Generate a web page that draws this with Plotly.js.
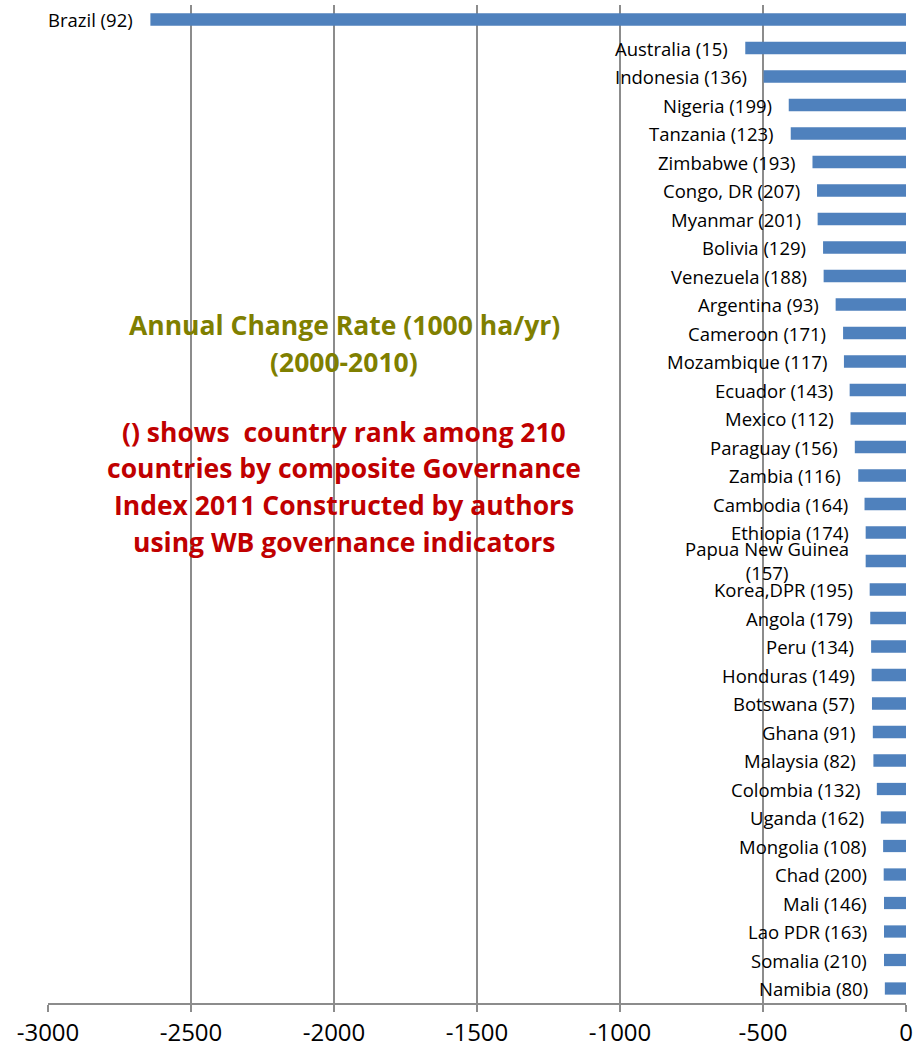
<!DOCTYPE html>
<html>
<head>
<meta charset="utf-8">
<script src="https://cdn.plot.ly/plotly-3.0.1.min.js"></script>
<style>html,body{margin:0;padding:0;background:#fff;}#chart{width:914px;height:1048px;}</style>
</head>
<body>
<div id="chart"></div>
<script>
const countries = ["Brazil","Australia","Indonesia","Nigeria","Tanzania","Zimbabwe","Congo, DR","Myanmar","Bolivia","Venezuela","Argentina","Cameroon","Mozambique","Ecuador","Mexico","Paraguay","Zambia","Cambodia","Ethiopia","Papua New Guinea","Korea,DPR","Angola","Peru","Honduras","Botswana","Ghana","Malaysia","Colombia","Uganda","Mongolia","Chad","Mali","Lao PDR","Somalia","Namibia"];
const ranks = [92,15,136,199,123,193,207,201,129,188,93,171,117,143,112,156,116,164,174,157,195,179,134,149,57,91,82,132,162,108,200,146,163,210,80];
const changeRate = [-2642,-562,-498,-410,-403,-327,-311,-309,-290,-288,-246,-220,-217,-197,-194,-179,-167,-145,-141,-141,-127,-125,-122,-120,-119,-116,-114,-102,-88,-80,-78,-77,-77,-77,-74];
const xTicks = [-3000,-2500,-2000,-1500,-1000,-500,0];
const titleLines = ["Annual Change Rate (1000 ha/yr)","(2000-2010)"];
const noteLines = ["() shows  country rank among 210","countries by composite Governance","Index 2011 Constructed by authors","using WB governance indicators"];

const FONT = "'Open Sans', 'Noto Sans', sans-serif";
const labels = countries.map((c,i)=> c + " (" + ranks[i] + ")");
const labelFont = {family:FONT, size:18.5, color:"#000"};

const H = 1048, T = 5, B = 45;
const plotH = H - T - B;
const toPaperY = py => (H - B - py) / plotH;

const annotations = countries.map((c,i)=>{
  const isPNG = c === "Papua New Guinea";
  return {
    x: changeRate[i], y: c, xref:"x", yref:"y",
    text: isPNG ? "Papua New Guinea<br>(157)" : labels[i],
    showarrow:false, xanchor:"right", yanchor:"middle", xshift:-15, yshift: isPNG ? 1 : 0,
    align: "center", font: labelFont
  };
});
const boxX = 0.345;
const titleY = [325, 362];
const noteY = [432, 468, 505, 542];
titleLines.forEach((t,i)=>annotations.push({
  xref:"paper", yref:"paper", x:boxX, y:toPaperY(titleY[i]), xanchor:"center", yanchor:"middle",
  showarrow:false, text:"<b>"+t+"</b>",
  font:{family:FONT, size:26.5, color:"#7F7F00"}
}));
noteLines.forEach((t,i)=>annotations.push({
  xref:"paper", yref:"paper", x:boxX, y:toPaperY(noteY[i]), xanchor:"center", yanchor:"middle",
  showarrow:false, text:"<b>"+t+"</b>",
  font:{family:FONT, size:26.5, color:"#C00000"}
}));

const trace = {
  type:"bar", orientation:"h", x:changeRate, y:countries,
  marker:{color:"#4F81BD"}, hoverinfo:"x+y"
};
const layout = {
  width:914, height:H,
  margin:{l:48, r:8, t:T, b:B},
  paper_bgcolor:"#fff", plot_bgcolor:"#fff",
  bargap:0.57, showlegend:false,
  xaxis:{range:[-3000,0], tickvals:xTicks, ticktext:xTicks.map(String),
    showgrid:true, gridcolor:"#8C8C8C", gridwidth:1.5, zeroline:false,
    showline:true, linecolor:"#8C8C8C", linewidth:1.5,
    ticks:"outside", ticklen:7, tickcolor:"#8C8C8C", tickwidth:1.5,
    tickfont:{family:FONT, size:24, color:"#000"}},
  yaxis:{autorange:"reversed", showticklabels:false, showgrid:false, zeroline:false, showline:false, ticks:""},
  annotations: annotations
};
Plotly.newPlot("chart",[trace],layout,{displayModeBar:false});
</script>
</body>
</html>
